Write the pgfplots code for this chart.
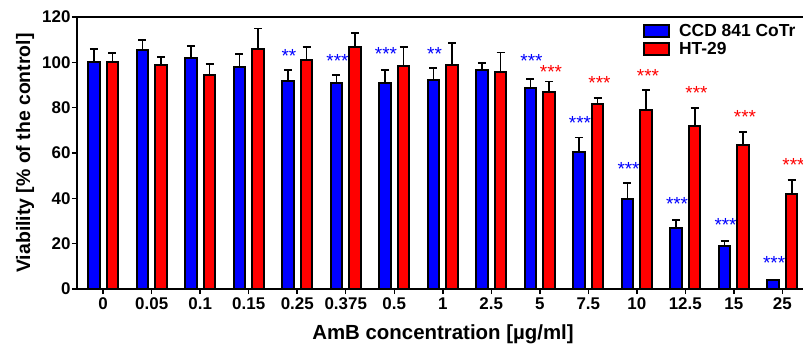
\documentclass[border=0pt]{standalone}
\usepackage{pgfplots}
\pgfplotsset{compat=1.18}
\usepackage{pgfplotstable}
\usepackage{fontspec}
\setmainfont{Liberation Sans}

\pgfplotstableread{
x ccd ccde ht hte
0 100.1 5.8 100.0 4.0
1 105.3 4.4 98.8 3.6
2 101.8 5.4 94.4 4.9
3 97.8 5.9 105.7 9.2
4 91.9 4.7 101.0 5.6
5 90.7 3.6 106.9 6.0
6 90.7 5.9 98.5 8.1
7 92.1 5.5 99.0 9.4
8 96.5 3.2 95.7 8.6
9 88.7 3.8 86.9 4.6
10 60.3 6.5 81.5 2.9
11 39.7 6.9 79.0 8.8
12 27.1 3.2 72.1 7.8
13 19.0 2.2 63.5 5.9
14 3.8 0.4 41.9 6.2
}\data

\begin{document}
\begin{tikzpicture}
\begin{axis}[
  at={(0,0)}, anchor=south west,
  scale only axis, width=732bp, height=272bp,
  xmin=-0.54, xmax=14.55, ymin=0, ymax=120,
  ybar, bar width=11.5bp,
  clip=false,
  xtick={0,...,14},
  xticklabels={0,0.05,0.1,0.15,0.25,0.375,0.5,1,2.5,5,7.5,10,12.5,15,25},
  ytick={0,20,...,120},
  tick pos=left,
  tick align=outside,
  major tick length=5bp,
  axis line style={line width=1.5bp},
  tick style={line width=1.5bp, black},
  /pgf/number format/assume math mode=true,
  ticklabel style={font=\fontsize{17}{20}\selectfont\bfseries},
  yticklabel style={xshift=2bp},
  xlabel={AmB concentration [µg/ml]},
  ylabel={Viability [\% of the control]},
  xlabel style={font=\fontsize{20.5}{24}\selectfont\bfseries,
    at={(axis description cs:0.5,-0.166)}, anchor=center},
  ylabel style={font=\fontsize{19.5}{24}\selectfont\bfseries,
    at={(axis description cs:-0.071,0.5)}, anchor=center},
  legend cell align=left,
  legend style={at={(axis description cs:0.769,0.99)}, anchor=north west,
    draw=none, fill=none, font=\fontsize{17.5}{21}\selectfont\bfseries,
    row sep=1bp},
  legend image code/.code={\draw[#1, bar shift=0pt] (0bp,-6bp) rectangle (25bp,6bp);},
  error bars/error bar style={line width=1.8bp, black},
  error bars/error mark options={rotate=90, mark size=4bp, line width=1.8bp, black},
]
\addplot[fill=blue, draw=black, line width=2bp, bar shift=-9.3bp,
  error bars/.cd, y dir=plus, y explicit]
  table[x=x, y=ccd, y error=ccde]{\data};
\addlegendentry{\hspace*{7bp}CCD 841 CoTr}
\addplot[fill=red, draw=black, line width=2bp, bar shift=9.3bp,
  error bars/.cd, y dir=plus, y explicit]
  table[x=x, y=ht, y error=hte]{\data};
\addlegendentry{\hspace*{7bp}HT-29}

\begin{scope}[every node/.style={font=\fontsize{19}{20}\selectfont, inner sep=0pt}]
\node[text=blue] at (axis cs:3.83,102.7) {**};
\node[text=blue] at (axis cs:4.83,100.4) {***};
\node[text=blue] at (axis cs:5.83,103.5) {***};
\node[text=blue] at (axis cs:6.83,103.9) {**};
\node[text=blue] at (axis cs:8.83,100.4) {***};
\node[text=red] at (axis cs:9.23,95.6) {***};
\node[text=blue] at (axis cs:9.83,73.1) {***};
\node[text=red] at (axis cs:10.23,90.8) {***};
\node[text=blue] at (axis cs:10.83,52.8) {***};
\node[text=red] at (axis cs:11.23,93.8) {***};
\node[text=blue] at (axis cs:11.83,37.4) {***};
\node[text=red] at (axis cs:12.23,86.5) {***};
\node[text=blue] at (axis cs:12.83,28.1) {***};
\node[text=red] at (axis cs:13.23,76.1) {***};
\node[text=blue] at (axis cs:13.83,11.4) {***};
\node[text=red] at (axis cs:14.23,54.6) {***};
\end{scope}
\end{axis}
\pgfresetboundingbox
\path[use as bounding box] (-77bp,-57bp) rectangle (726bp,289bp);
\end{tikzpicture}
\end{document}
